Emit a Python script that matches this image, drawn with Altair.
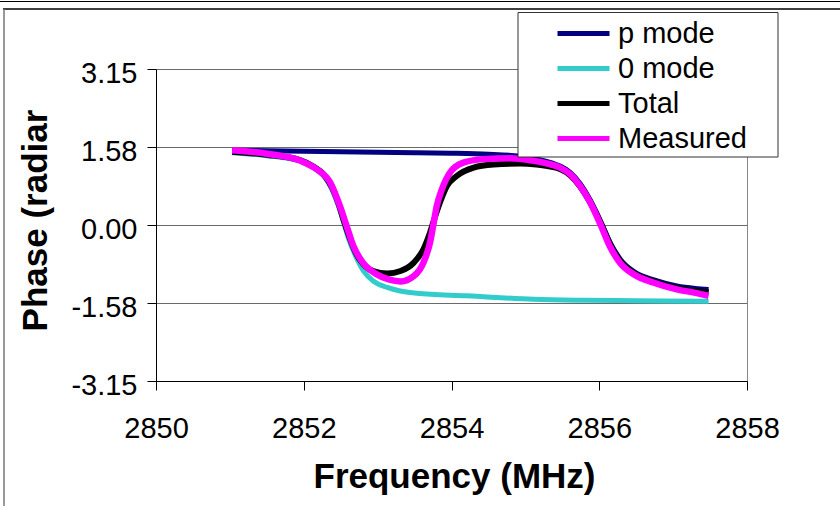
import altair as alt
import pandas as pd

# ---------------- data ----------------
SERIES = ["p mode", "0 mode", "Total", "Measured"]
COLORS = ["#000080", "#33CCCC", "#000000", "#FF00FF"]
WIDTHS = [5, 5, 6, 6.5]

PMODE_F = [2851.03, 2851.5, 2852.0, 2852.5, 2853.0, 2853.5, 2854.0, 2854.5, 2854.85,
           2855.1, 2855.3, 2855.47, 2855.61, 2855.74, 2855.88, 2856.03, 2856.15,
           2856.29, 2856.47, 2856.74, 2857.05, 2857.3, 2857.48]
PMODE_PHASE = [1.51, 1.50, 1.49, 1.48, 1.47, 1.46, 1.45, 1.43, 1.40,
               1.35, 1.28, 1.19, 1.06, 0.84, 0.50, 0.04, -0.36,
               -0.70, -0.94, -1.11, -1.23, -1.28, -1.30]

ZMODE_F = [2851.03, 2851.5, 2851.95, 2852.13, 2852.27, 2852.38, 2852.47, 2852.54,
           2852.61, 2852.70, 2852.81, 2852.94, 2853.13, 2853.53, 2854.21, 2855.11,
           2855.8, 2856.5, 2857.48]
ZMODE_PHASE = [1.46, 1.40, 1.29, 1.16, 0.99, 0.72, 0.38, 0.05,
               -0.29, -0.62, -0.93, -1.13, -1.26, -1.38, -1.43, -1.50,
               -1.52, -1.53, -1.54]

TOTAL_F = [2851.03, 2851.5, 2851.95, 2852.13, 2852.27, 2852.38, 2852.47, 2852.54,
           2852.62, 2852.70, 2852.80, 2852.94, 2853.13, 2853.31, 2853.49, 2853.62,
           2853.71, 2853.78, 2853.85, 2853.94, 2854.07, 2854.30, 2854.57, 2854.93,
           2855.15, 2855.3, 2855.47, 2855.61, 2855.74, 2855.88, 2856.03, 2856.15,
           2856.29, 2856.47, 2856.74, 2857.05, 2857.3, 2857.48]
TOTAL_PHASE = [1.48, 1.42, 1.31, 1.18, 1.02, 0.77, 0.44, 0.10,
               -0.25, -0.55, -0.78, -0.93, -0.98, -0.93, -0.76, -0.49,
               -0.15, 0.18, 0.48, 0.79, 0.99, 1.16, 1.22, 1.24,
               1.22, 1.19, 1.13, 1.00, 0.78, 0.45, 0.0, -0.40,
               -0.74, -0.97, -1.14, -1.27, -1.33, -1.36]

MEAS_F = [2851.03, 2851.5, 2851.95, 2852.18, 2852.36, 2852.49, 2852.58, 2852.67,
          2852.80, 2852.98, 2853.15, 2853.31, 2853.49, 2853.62, 2853.71, 2853.76,
          2853.80, 2853.87, 2853.98, 2854.16, 2854.43, 2854.8, 2855.1, 2855.3,
          2855.47, 2855.61, 2855.74, 2855.88, 2856.02, 2856.14, 2856.28, 2856.46,
          2856.73, 2857.05, 2857.3, 2857.48]
MEAS_PHASE = [1.51, 1.44, 1.30, 1.12, 0.85, 0.38, -0.02, -0.42,
              -0.76, -0.99, -1.10, -1.14, -1.03, -0.76, -0.35, 0.05,
              0.38, 0.72, 1.06, 1.26, 1.33, 1.35, 1.30, 1.24,
              1.16, 1.02, 0.79, 0.45, 0.0, -0.42, -0.76, -0.99,
              -1.16, -1.30, -1.37, -1.43]

X_TICKS = [2850, 2852, 2854, 2856, 2858]
Y_TICKS = [-3.15, -1.575, 0.0, 1.575, 3.15]
Y_TICK_LABELS = ["-3.15", "-1.58", "0.00", "1.58", "3.15"]

X_TITLE = "Frequency (MHz)"
Y_TITLE = "Phase (radiar"

FONT = "Liberation Sans"

# ---------------- build ----------------
frames = []
for name, f, p in [(SERIES[0], PMODE_F, PMODE_PHASE), (SERIES[1], ZMODE_F, ZMODE_PHASE),
                   (SERIES[2], TOTAL_F, TOTAL_PHASE), (SERIES[3], MEAS_F, MEAS_PHASE)]:
    frames.append(pd.DataFrame({"freq": f, "phase": p, "series": name}))

y_label_expr = " : ".join(
    f"abs(datum.value - ({v})) < 0.001 ? '{lab}'" for v, lab in zip(Y_TICKS, Y_TICK_LABELS)
) + " : ''"

color = alt.Color(
    "series:N",
    scale=alt.Scale(domain=SERIES, range=COLORS),
    legend=alt.Legend(
        title=None, orient="none", legendX=362, legendY=-57, padding=7,
        symbolType="M-4,0L4,0", symbolSize=169, symbolStrokeWidth=5,
        symbolOffset=44, labelOffset=20, rowPadding=5,
        labelFont=FONT, labelFontSize=29, labelColor="black", labelLimit=500,
    ),
)

x_enc = alt.X(
    "freq:Q",
    scale=alt.Scale(domain=[2850, 2858], nice=False, zero=False),
    axis=alt.Axis(
        values=X_TICKS, format="d", grid=False, tickSize=9, labelPadding=47,
        labelBaseline="alphabetic", labelFlush=False, labelOverlap=False,
        labelFont=FONT, labelFontSize=29, labelColor="black",
        domainColor="black", tickColor="black",
        title=X_TITLE, titleFont=FONT, titleFontSize=35, titleFontWeight="bold",
        titleColor="black", titleX=298, titleY=106, titleBaseline="alphabetic",
        titleAlign="center",
    ),
)
y_enc = alt.Y(
    "phase:Q",
    scale=alt.Scale(domain=[-3.15, 3.15], nice=False, zero=False),
    axis=alt.Axis(
        values=Y_TICKS, labelExpr=y_label_expr, grid=True, gridColor="#6a6a6a",
        tickSize=9, labelPadding=10, labelBaseline="alphabetic", labelOffset=13,
        labelFlush=False, labelOverlap=False,
        labelFont=FONT, labelFontSize=29, labelColor="black",
        domainColor="black", tickColor="black",
        title=Y_TITLE, titleFont=FONT, titleFontSize=35, titleFontWeight="bold",
        titleColor="black", titleX=-110, titleY=151, titleBaseline="alphabetic",
        titleAlign="center", titleAngle=270,
    ),
)

layers = []
for df, w in zip(frames, WIDTHS):
    layers.append(
        alt.Chart(df).mark_line(strokeWidth=w, interpolate="monotone")
        .encode(x=x_enc, y=y_enc, color=color)
    )

one = alt.Data(values=[{"k": 1}])
# legend frame (white box behind the legend entries)
legend_box = alt.Chart(one).mark_rect(fill="white", stroke="#333333", strokeWidth=1).encode(
    x=alt.value(362), x2=alt.value(622), y=alt.value(-56.5), y2=alt.value(88))
# outer document frame lines
frame_top1 = alt.Chart(one).mark_rule(color="black", strokeWidth=1).encode(
    x=alt.value(-156), x2=alt.value(684), y=alt.value(-67.5))
frame_top2 = alt.Chart(one).mark_rule(color="black", strokeWidth=1.5).encode(
    x=alt.value(-153), x2=alt.value(684), y=alt.value(-60))
frame_left = alt.Chart(one).mark_rule(color="#777777", strokeWidth=1.5).encode(
    x=alt.value(-152), y=alt.value(-60), y2=alt.value(437))

chart = alt.layer(*layers, legend_box, frame_top1, frame_top2, frame_left).properties(
    width=591, height=312,
    autosize=alt.AutoSizeParams(type="none"),
    padding={"left": 156, "top": 69, "right": 93, "bottom": 125},
    background="white",
).configure_view(stroke="#888888", strokeWidth=1)

chart.save("out.html", embed_options={"renderer": "svg", "actions": False})
